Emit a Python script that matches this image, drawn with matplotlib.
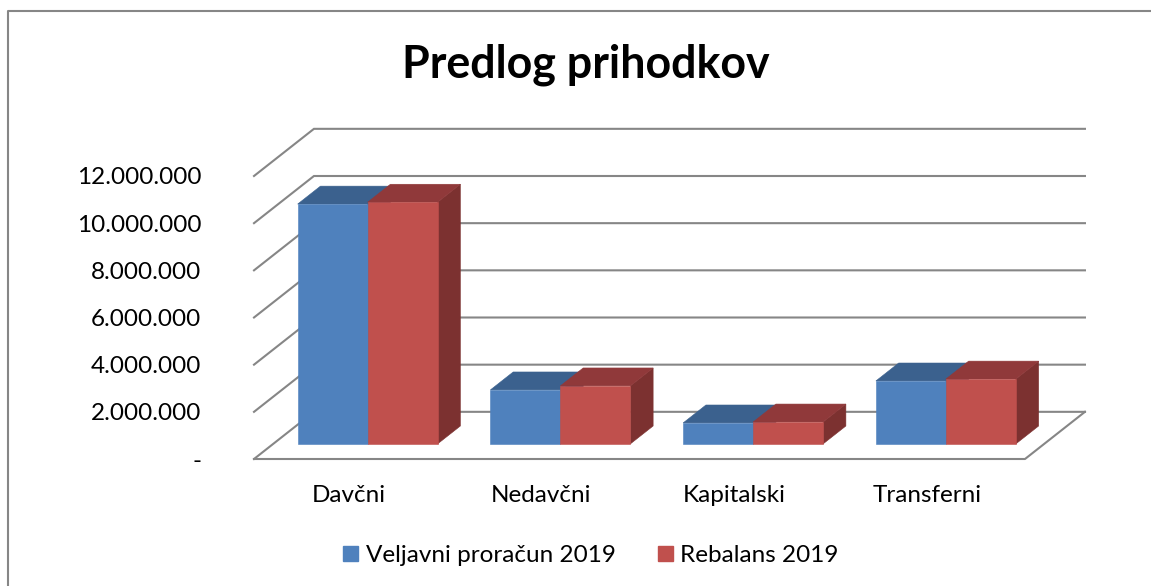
import matplotlib.pyplot as plt
from matplotlib.patches import Polygon, Patch
from matplotlib.lines import Line2D

plt.rcParams['font.family'] = ['Lato', 'DejaVu Sans']

# podatki
kategorije = ['Davčni', 'Nedavčni', 'Kapitalski', 'Transferni']
veljavni = [10170000, 2290000, 890000, 2670000]
rebalans = [10250000, 2460000, 930000, 2750000]
oznake_y = ['-', '2.000.000', '4.000.000', '6.000.000', '8.000.000', '10.000.000', '12.000.000']
vrednosti_y = [0, 2000000, 4000000, 6000000, 8000000, 10000000, 12000000]
naslov = 'Predlog prihodkov'
serije = ['Veljavni proračun 2019', 'Rebalans 2019']

# barve (spredaj, zgoraj, stran)
modra = ('#4f81bd', '#3b618e', '#2f4e72')
rdeca = ('#c0504d', '#90393a', '#7c3130')
siva = '#868686'

# posevna projekcija: globina 1 = toliko premika v x in y
zamik_x = 0.311
zamik_y = 2000000
sirina = 0.363
sredina = 0.49
globina_od = 0.32
globina_do = 0.70


def tocka(x, y, d):
    return (x + d * zamik_x, y + d * zamik_y)


def stolpec(ax, x, vrednost, barve):
    levo, desno = x, x + sirina
    spredaj = [tocka(levo, 0, globina_od), tocka(desno, 0, globina_od),
               tocka(desno, vrednost, globina_od), tocka(levo, vrednost, globina_od)]
    zgoraj = [tocka(levo, vrednost, globina_od), tocka(desno, vrednost, globina_od),
              tocka(desno, vrednost, globina_do), tocka(levo, vrednost, globina_do)]
    stran = [tocka(desno, 0, globina_od), tocka(desno, 0, globina_do),
             tocka(desno, vrednost, globina_do), tocka(desno, vrednost, globina_od)]
    for oglisca, barva in zip((stran, zgoraj, spredaj), (barve[2], barve[1], barve[0])):
        ax.add_patch(Polygon(oglisca, closed=True, facecolor=barva, edgecolor=barva,
                             linewidth=0.4, zorder=3, clip_on=False))


fig = plt.figure(figsize=(11.51, 5.86), dpi=100)
fig.add_artist(Line2D([8 / 1151, 8 / 1151, 1], [0, 1 - 11 / 586, 1 - 11 / 586],
                      color=siva, linewidth=1.5))

ax = fig.add_axes([254 / 1151, (586 - 459) / 586, 771 / 1151, 283 / 586])
ax.set_xlim(0, len(kategorije))
ax.set_ylim(0, 12000000)
for s in ax.spines.values():
    s.set_visible(False)

# mreza: leva stena in zadnja stena
for v in vrednosti_y:
    a = tocka(0, v, 0)
    b = tocka(0, v, 1)
    c = tocka(len(kategorije), v, 1)
    ax.plot([a[0], b[0], c[0]], [a[1], b[1], c[1]], color=siva, linewidth=1.5,
            zorder=1, clip_on=False, solid_joinstyle='miter')

# tla
t1 = tocka(0, 0, 0)
t2 = tocka(len(kategorije), 0, 0)
t3 = tocka(len(kategorije), 0, 1)
ax.plot([t1[0], t2[0], t3[0]], [t1[1], t2[1], t3[1]], color=siva, linewidth=1.5,
        zorder=2, clip_on=False)

for i in range(len(kategorije)):
    stolpec(ax, i + sredina - sirina, veljavni[i], modra)
    stolpec(ax, i + sredina, rebalans[i], rdeca)

ax.set_yticks(vrednosti_y, oznake_y)
ax.set_xticks([i + sredina for i in range(len(kategorije))], kategorije)
ax.tick_params(axis='y', length=0, pad=38, labelsize=17.5, labelcolor='black')
ax.tick_params(axis='x', length=0, pad=19, labelsize=17.5, labelcolor='black')

fig.text(585.5 / 1151, 1 - 64.5 / 586, naslov, fontsize=32.2, fontweight='bold',
         ha='center', va='center')

fig.legend(handles=[Patch(color=modra[0], label=serije[0]), Patch(color=rdeca[0], label=serije[1])],
           loc='center', bbox_to_anchor=(591 / 1151, 1 - 555.5 / 586), ncol=2, frameon=False,
           fontsize=17.5, handlelength=0.62, handleheight=0.62, handletextpad=0.3,
           columnspacing=1.75, borderpad=0)

plt.savefig('out.png', dpi=100)
